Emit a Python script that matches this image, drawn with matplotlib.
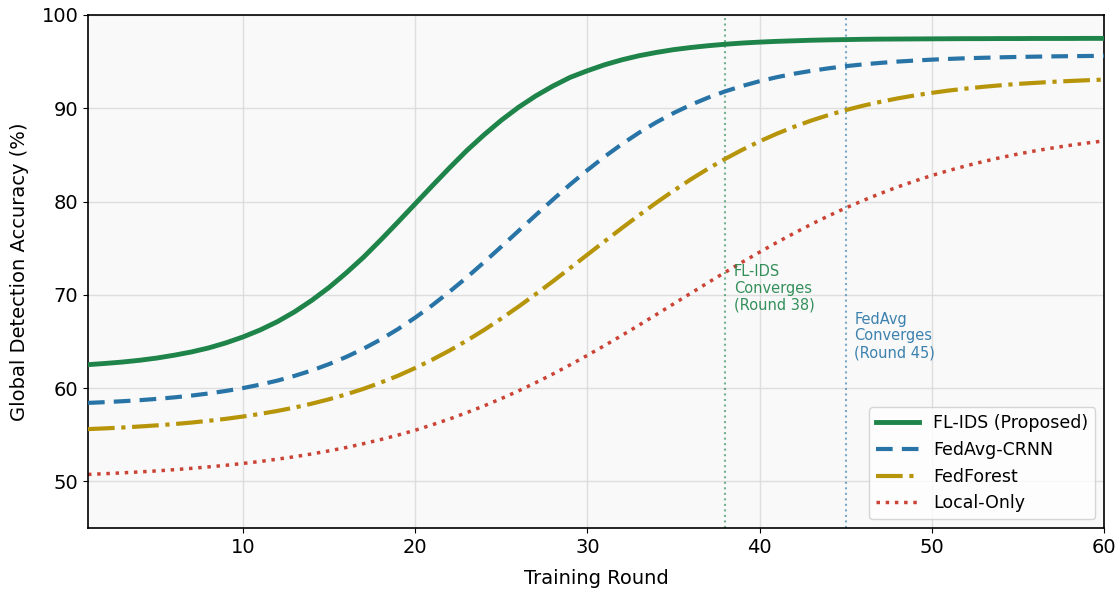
import matplotlib
matplotlib.use("Agg")
import matplotlib.pyplot as plt

rounds = list(range(1, 61))

fl_ids = [62.51, 62.64, 62.79, 62.98, 63.22, 63.52, 63.87, 64.30, 64.84, 65.48,
          66.23, 67.12, 68.18, 69.41, 70.79, 72.35, 74.03, 75.88, 77.80, 79.75,
          81.70, 83.62, 85.47, 87.15, 88.71, 90.10, 91.32, 92.38, 93.31, 94.02,
          94.66, 95.19, 95.63, 95.98, 96.28, 96.51, 96.70, 96.86, 96.99, 97.09,
          97.17, 97.23, 97.29, 97.33, 97.36, 97.39, 97.41, 97.42, 97.43, 97.44,
          97.45, 97.46, 97.46, 97.47, 97.47, 97.48, 97.48, 97.48, 97.49, 97.49]

fedavg = [58.41, 58.49, 58.59, 58.70, 58.84, 59.00, 59.19, 59.42, 59.69, 60.00,
          60.37, 60.80, 61.31, 61.89, 62.57, 63.34, 64.22, 65.21, 66.32, 67.55,
          68.89, 70.34, 71.87, 73.49, 75.16, 76.85, 78.54, 80.21, 81.83, 83.36,
          84.81, 86.15, 87.38, 88.49, 89.48, 90.36, 91.13, 91.81, 92.39, 92.90,
          93.33, 93.70, 94.01, 94.28, 94.51, 94.70, 94.86, 95.00, 95.11, 95.21,
          95.29, 95.36, 95.41, 95.46, 95.50, 95.53, 95.56, 95.58, 95.60, 95.62]

fedforest = [55.60, 55.68, 55.77, 55.88, 56.00, 56.14, 56.30, 56.49, 56.70, 56.95,
             57.23, 57.55, 57.91, 58.33, 58.80, 59.33, 59.92, 60.59, 61.32, 62.15,
             63.05, 64.03, 65.09, 66.23, 67.45, 68.73, 70.07, 71.45, 72.87, 74.30,
             75.73, 77.15, 78.53, 79.87, 81.15, 82.37, 83.51, 84.57, 85.55, 86.45,
             87.27, 88.01, 88.68, 89.27, 89.80, 90.27, 90.68, 91.05, 91.37, 91.65,
             91.90, 92.11, 92.30, 92.46, 92.61, 92.72, 92.83, 92.92, 93.00, 93.07]

local_only = [50.74, 50.82, 50.91, 51.01, 51.12, 51.25, 51.39, 51.55, 51.72, 51.92,
              52.13, 52.38, 52.64, 52.94, 53.27, 53.63, 54.04, 54.48, 54.96, 55.48,
              56.07, 56.69, 57.37, 58.09, 58.87, 59.70, 60.58, 61.51, 62.49, 63.51,
              64.56, 65.64, 66.75, 67.88, 69.02, 70.16, 71.30, 72.41, 73.51, 74.57,
              75.61, 76.60, 77.56, 78.46, 79.31, 80.10, 80.85, 81.55, 82.19, 82.79,
              83.33, 83.83, 84.29, 84.71, 85.09, 85.43, 85.74, 86.02, 86.27, 86.50]

labels = ["FL-IDS (Proposed)", "FedAvg-CRNN", "FedForest", "Local-Only"]
conv_rounds = [38, 45]
conv_texts = ["FL-IDS\nConverges\n(Round 38)", "FedAvg\nConverges\n(Round 45)"]

c_green = "#1e8449"
c_blue = "#2874a6"
c_gold = "#b7950b"
c_red = "#cb4335"

fig = plt.figure(figsize=(11.18, 5.89), dpi=100)
ax = fig.add_axes([0.0787, 0.1036, 0.9088, 0.871])
ax.set_facecolor("#f9f9f9")

ax.plot(rounds, fl_ids, color=c_green, lw=3.5, ls="-", label=labels[0], zorder=5)
ax.plot(rounds, fedavg, color=c_blue, lw=3.0, ls=(0, (4, 2.2)), label=labels[1], zorder=4)
ax.plot(rounds, fedforest, color=c_gold, lw=3.0, ls="-.", label=labels[2], zorder=3)
ax.plot(rounds, local_only, color=c_red, lw=2.5, ls=":", label=labels[3], zorder=2)

ax.axvline(conv_rounds[0], color=c_green, ls=":", lw=1.5, alpha=0.6, zorder=1)
ax.axvline(conv_rounds[1], color=c_blue, ls=":", lw=1.5, alpha=0.6, zorder=1)
ax.text(conv_rounds[0] + 0.5, 73.3, conv_texts[0], color=c_green, fontsize=10.5,
        va="top", ha="left", alpha=0.9, linespacing=1.15)
ax.text(conv_rounds[1] + 0.5, 68.2, conv_texts[1], color=c_blue, fontsize=10.5,
        va="top", ha="left", alpha=0.9, linespacing=1.15)

ax.set_xlim(1, 60)
ax.set_ylim(45, 100)
ax.set_xticks([10, 20, 30, 40, 50, 60])
ax.set_yticks([50, 60, 70, 80, 90, 100])
ax.tick_params(labelsize=14)
ax.grid(True, color="#d8d8d8", lw=1.0, alpha=0.8)
ax.set_axisbelow(True)
ax.set_xlabel("Training Round", fontsize=14, labelpad=9)
ax.set_ylabel("Global Detection Accuracy (%)", fontsize=14, labelpad=9)
for s in ax.spines.values():
    s.set_linewidth(1.2)

ax.legend(loc="lower right", fontsize=12.5, framealpha=0.8, handlelength=2.5)

fig.savefig("out.png", dpi=100)
